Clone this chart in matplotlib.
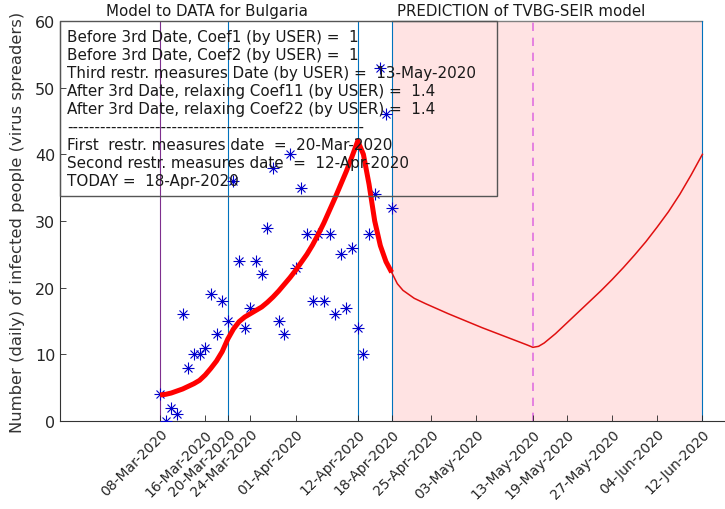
import matplotlib
matplotlib.use("Agg")
import matplotlib.pyplot as plt
import matplotlib.dates as mdates
from matplotlib.patches import Rectangle
import numpy as np
import pandas as pd

# daily data for Bulgaria (new infected people), from 08-Mar-2020
start = pd.Timestamp("2020-03-08")
daily_cases = [4, 0, 2, 1, 16, 8, 10, 10, 11, 19, 13, 18, 15, 36, 24, 14, 17, 24, 22, 29,
               38, 15, 13, 40, 23, 35, 28, 18, 28, 18, 28, 16, 25, 17, 26, 14, 10, 28, 34, 53,
               46, 32]

# model fitted to data (thick red curve), same days as data
model_fit = [3.9, 4.0, 4.2, 4.5, 4.8, 5.2, 5.6, 6.1, 6.9, 7.9, 9.0, 10.4, 12.3, 13.8, 14.9,
             15.6, 16.1, 16.6, 17.1, 17.8, 18.6, 19.5, 20.5, 21.5, 22.6, 23.8, 25.0, 26.4,
             28.0, 29.7, 31.6, 33.5, 35.5, 37.5, 39.7, 42.0, 40.0, 35.5, 30.0, 26.3, 23.9, 22.3]

# prediction of TVBG-SEIR model (days after 08-Mar-2020, value)
pred_days = [41, 42, 43, 44, 45, 47, 49, 51, 53, 55, 57, 59, 61, 63, 65, 66, 67, 68, 70, 72,
             74, 76, 78, 80, 82, 84, 86, 88, 90, 92, 94, 96]
pred_vals = [22.3, 20.6, 19.6, 19.0, 18.4, 17.6, 16.85, 16.1, 15.4, 14.7, 14.0, 13.35, 12.7,
             12.05, 11.4, 11.05, 11.2, 11.7, 13.1, 14.7, 16.3, 17.9, 19.5, 21.2, 23.0, 24.9,
             26.9, 29.1, 31.4, 34.0, 36.9, 40.0]

tick_dates = ["2020-03-08", "2020-03-16", "2020-03-20", "2020-03-24", "2020-04-01",
              "2020-04-12", "2020-04-18", "2020-04-25", "2020-05-03", "2020-05-13",
              "2020-05-19", "2020-05-27", "2020-06-04", "2020-06-12"]

info_lines = [
    "Before 3rd Date, Coef1 (by USER) =  1",
    "Before 3rd Date, Coef2 (by USER) =  1",
    "Third restr. measures Date (by USER) =  13-May-2020",
    "After 3rd Date, relaxing Coef11 (by USER) =  1.4",
    "After 3rd Date, relaxing Coef22 (by USER) =  1.4",
    "-" * 54,
    "First  restr. measures date  =  20-Mar-2020",
    "Second restr. measures date  =  12-Apr-2020",
    "TODAY =  18-Apr-2020",
]

first_date = pd.Timestamp("2020-03-20")
second_date = pd.Timestamp("2020-04-12")
today = pd.Timestamp("2020-04-18")
third_date = pd.Timestamp("2020-05-13")
end_date = pd.Timestamp("2020-06-12")

data_dates = pd.date_range(start, periods=len(daily_cases))
pred_dates = [start + pd.Timedelta(days=d) for d in pred_days]

fig = plt.figure(figsize=(7.25, 5.1), dpi=100)
ax = fig.add_axes([60 / 725, 88 / 510, 665 / 725, 400 / 510])

x0 = mdates.date2num(start - pd.Timedelta(days=17.7))
x1 = mdates.date2num(end_date + pd.Timedelta(days=4))
ax.set_xlim(x0, x1)
ax.set_ylim(0, 60)

# prediction area
t0 = mdates.date2num(today)
t1 = mdates.date2num(end_date)
ax.add_patch(Rectangle((t0, 0), t1 - t0, 60, facecolor=(1.0, 0.89, 0.89), edgecolor="none", zorder=0))
ax.plot([t0, t1], [60, 60], color="#808080", lw=1.0, zorder=1, clip_on=False)

# vertical lines
ax.axvline(start, color="#7E2F8E", lw=0.8, zorder=1)
for d in [first_date, second_date, today, end_date]:
    ax.axvline(d, color="#0072BD", lw=0.8, zorder=1)
ax.axvline(third_date, color="#E070E0", lw=1.2, ls=(0, (5, 4)), zorder=1)

# data and model
ax.plot(data_dates, daily_cases, "+", color="#0000CC", ms=8, mew=0.8, zorder=3)
ax.plot(data_dates, daily_cases, "x", color="#0000CC", ms=5.5, mew=0.8, zorder=3)
ax.plot(data_dates, model_fit, color="red", lw=3.6, zorder=4, solid_capstyle="butt")
ax.plot(pred_dates, pred_vals, color="#E01010", lw=1.1, zorder=4)

# info box
ax.add_patch(Rectangle((0, (422 - 197) / 400), (497 - 60) / 665, 1 - (422 - 197) / 400,
                       transform=ax.transAxes, facecolor="none", edgecolor="#555555",
                       lw=1.0, zorder=5, clip_on=False))
for i, line in enumerate(info_lines):
    y = 57.75 - 2.7 * i
    ax.text(0.0105, y, line, transform=ax.get_yaxis_transform(), fontsize=10.9,
            color="#1a1a1a", va="center", ha="left", zorder=6)

# titles
ax.text(mdates.date2num(start + pd.Timedelta(days=8.3)), 61.6, "Model to DATA for Bulgaria",
        fontsize=10.8, ha="center", va="center", color="#1a1a1a")
ax.text(mdates.date2num(start + pd.Timedelta(days=63.9)), 61.6, "PREDICTION of TVBG-SEIR model",
        fontsize=10.8, ha="center", va="center", color="#1a1a1a")

ax.set_xticks([mdates.date2num(pd.Timestamp(d)) for d in tick_dates])
ax.set_xticklabels([pd.Timestamp(d).strftime("%d-%b-%Y") for d in tick_dates],
                   rotation=45, ha="right", rotation_mode="anchor", fontsize=10)
ax.set_yticks([0, 10, 20, 30, 40, 50, 60])
ax.tick_params(direction="in", length=4, width=0.6, colors="#262626", labelsize=11.5)
ax.tick_params(axis="x", labelsize=10, pad=4)
ax.set_ylabel("Number (daily) of infected people (virus spreaders)", fontsize=11.8,
              color="#333333")
ax.yaxis.set_label_coords(-0.0526, 0.5)

ax.spines["top"].set_visible(False)
ax.spines["right"].set_visible(False)
for s in ["left", "bottom"]:
    ax.spines[s].set_color("#333333")
    ax.spines[s].set_linewidth(0.8)

fig.savefig("out.png", dpi=100)
